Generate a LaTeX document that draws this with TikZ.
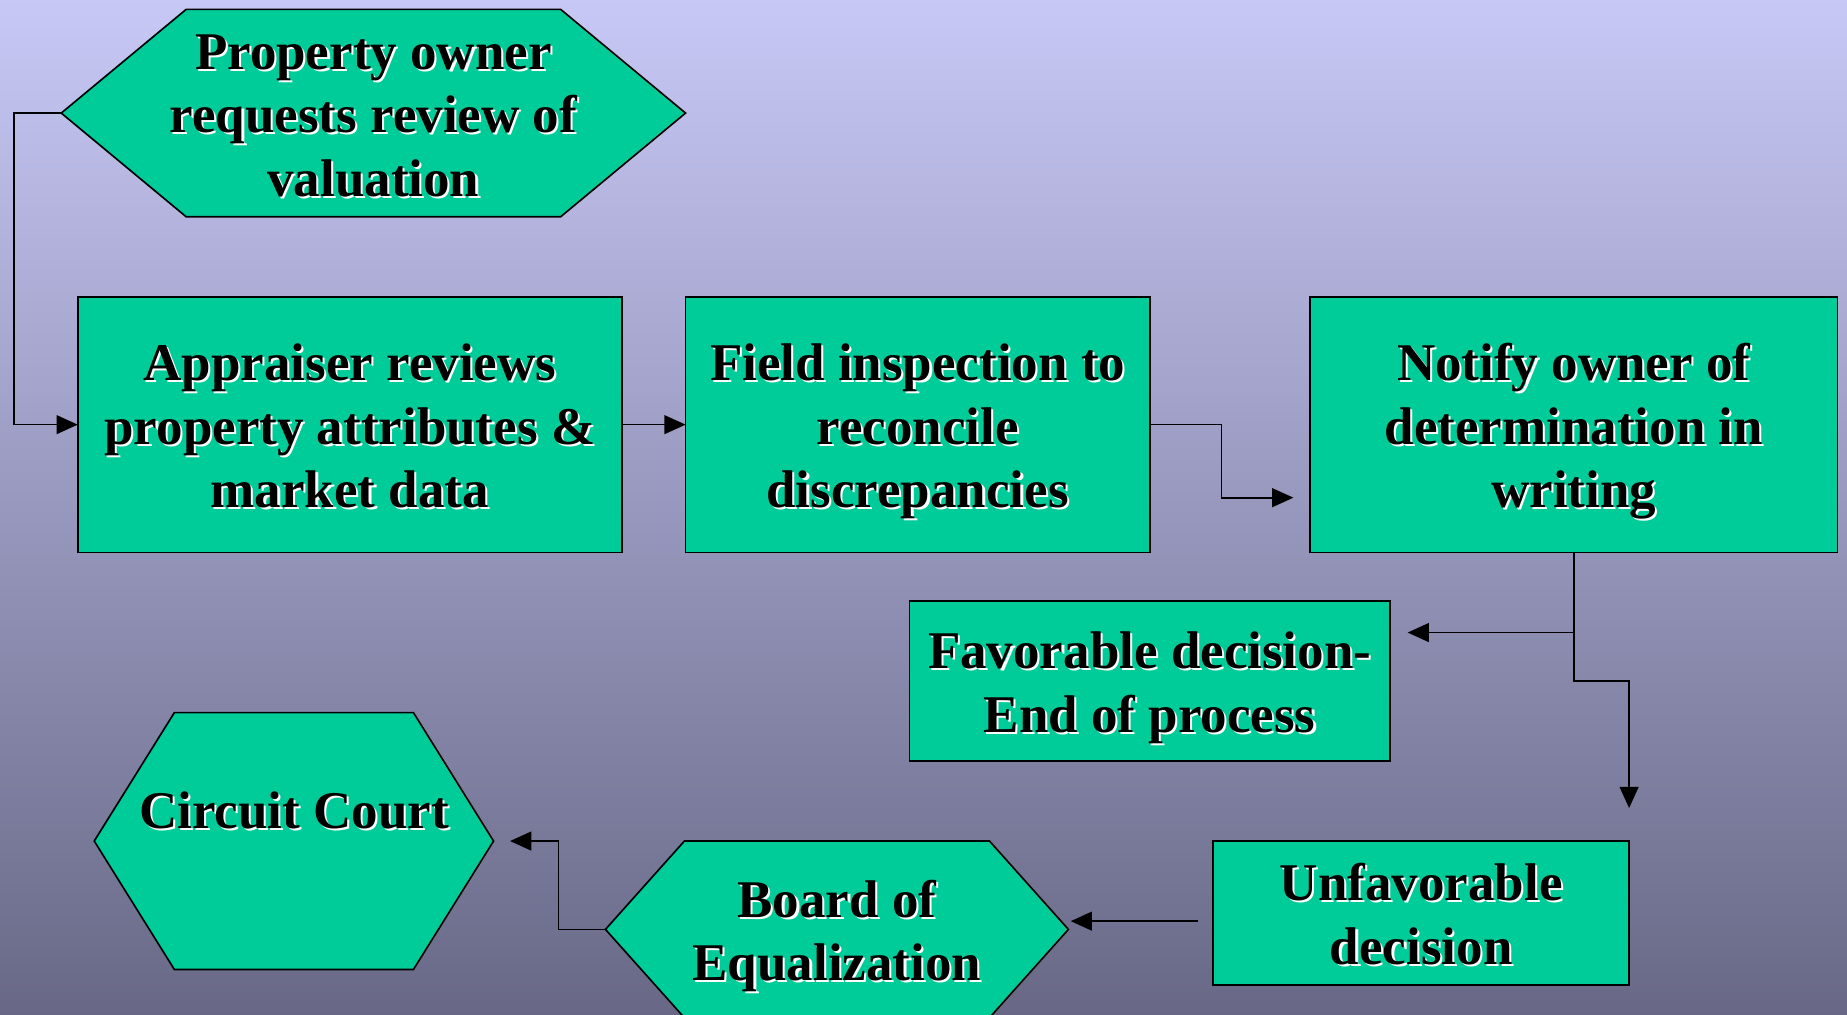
\documentclass[tikz,border=0pt]{standalone}
\usepackage{fontspec}
\setmainfont{Liberation Serif}
\usepackage{xcolor}
\definecolor{boxgreen}{RGB}{0, 204, 153}
\definecolor{bgtop}{RGB}{200, 200, 246}
\definecolor{bgbottom}{RGB}{104, 104, 134}
\usepackage{tikz}
\usetikzlibrary{
  arrows.meta,
  positioning,
  calc,
  backgrounds
}

% black text with a small white drop shadow
\newcommand{\shadtxt}[1]{\leavevmode\rlap{\hspace{0.9pt}\raisebox{-0.9pt}{\color{white}#1}}#1}

\tikzset{
  labeltext/.style={font=\fontsize{22.5pt}{27pt}\selectfont\bfseries, align=center,
                    inner sep=0pt, outer sep=0pt, text depth=0pt},
  twolines/.style={text height=43.6pt},
  threelines/.style={text height=70.6pt},
  stepbox/.style={labeltext, draw=black, fill=boxgreen, line width=0.7pt},
  hexnode/.style={labeltext},
  hexline/.style={draw=black, fill=boxgreen, line width=0.7pt},
  link/.style={draw=black, line width=0.7pt, -{Triangle[length=9pt,width=8pt]}}
}

\begin{document}
\begin{tikzpicture}[x=0.5pt, y=-0.5pt]
\useasboundingbox (0,0) rectangle (1568,861);

% top row
\node[hexnode, threelines, minimum width=265pt, minimum height=88pt] (owner) at (317,96)
  {\shadtxt{Property owner}\\\shadtxt{requests review of}\\\shadtxt{valuation}};
\node[stepbox, threelines, minimum width=231pt, minimum height=108.5pt] (appr) at (297,360.5)
  {\shadtxt{Appraiser reviews}\\\shadtxt{property attributes \&}\\\shadtxt{market data}};
\node[stepbox, threelines, minimum width=197pt, minimum height=108.5pt, right=27pt of appr] (field)
  {\shadtxt{Field inspection to}\\\shadtxt{reconcile}\\\shadtxt{discrepancies}};
\node[stepbox, threelines, minimum width=224pt, minimum height=108.5pt, right=68pt of field] (notify)
  {\shadtxt{Notify owner of}\\\shadtxt{determination in}\\\shadtxt{writing}};

% outcomes
\node[stepbox, twolines, minimum width=204pt, minimum height=68pt] (fav) at (976,578)
  {\shadtxt{Favorable decision-}\\\shadtxt{End of process}};
\node[stepbox, twolines, minimum width=176.5pt, minimum height=61pt] (unfav) at (1206.5,775)
  {\shadtxt{Unfavorable}\\\shadtxt{decision}};
\node[hexnode, twolines, minimum width=196.5pt, minimum height=75pt] (board) at (710.5,789)
  {\shadtxt{Board of}\\\shadtxt{Equalization}};
\node[hexnode, minimum width=169.5pt, minimum height=109pt, text height=16pt, text depth=27pt]
  (court) at (249.5,714) {\shadtxt{Circuit Court}};

\begin{scope}[on background layer]
  \shade[top color=bgtop, bottom color=bgbottom] (0,0) rectangle (1568,861);
  \foreach \h/\d in {owner/106, board/67, court/68} {
    \draw[hexline] (\h.west) -- ($(\h.north west)+(\d,0)$) -- ($(\h.north east)+(-\d,0)$)
      -- (\h.east) -- ($(\h.south east)+(-\d,0)$) -- ($(\h.south west)+(\d,0)$) -- cycle;
  }
\end{scope}

% loose arrow ends
\coordinate (n1) at ($(notify.west)+(-14,62)$);
\coordinate (f1) at ($(fav.east)+(15,-41)$);
\coordinate (u1) at ($(unfav.north east)+(0,-28)$);
\coordinate (b0) at ($(unfav.west)+(-13,7)$);
\coordinate (b1) at ($(board.east)+(2,-7)$);
\coordinate (c1) at ($(court.east)+(14,0)$);

\draw[link] (owner.west) -- ++(-40,0) |- (appr.west);
\draw[link] (appr.east) -- (field.west);
\draw[link] (field.east) -- ++(61,0) |- (n1);
\draw[link] (notify.south) |- (f1);
\draw[link] (notify.south) -- ++(0,109) -| (u1);
\draw[link] (b0) -- (b1);
\draw[link] (board.west) -- ++(-40,0) |- (c1);
\end{tikzpicture}
\end{document}
